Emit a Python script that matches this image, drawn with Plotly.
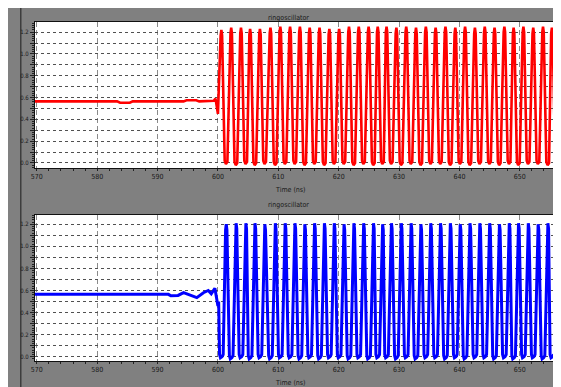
import plotly.graph_objects as go

# ---------------- data ----------------
x_ticks = [570, 580, 590, 600, 610, 620, 630, 640, 650]
y_ticks = [0.0, 0.1, 0.2, 0.3, 0.4, 0.5, 0.6, 0.7, 0.8, 0.9, 1.0, 1.1, 1.2]
y_ticklabels = ["0.0", "", "0.2", "", "0.4", "", "0.6", "", "0.8", "", "1.0", "", "1.2"]

# red trace: settled level before start-up
red_pre_t = [569.7, 583.3, 583.8, 585.4, 585.9, 594.3, 594.8, 596.4, 596.9, 599.3, 599.6, 600.0]
red_pre_v = [0.565, 0.565, 0.552, 0.552, 0.565, 0.565, 0.575, 0.575, 0.565, 0.57, 0.59, 0.45]
# red oscillation: peak times / peak levels / trough levels
red_peak_t = [600.57, 602.20, 603.82, 605.33, 606.96, 608.70, 610.33, 611.95, 613.58,
              615.20, 616.83, 618.46, 620.08, 621.71, 623.33, 624.96, 626.47, 627.93,
              629.56, 631.19, 632.81, 634.44, 636.06, 637.69, 639.32, 640.94, 642.57,
              644.20, 645.82, 647.45, 648.98, 650.60, 652.23, 653.85, 655.32]
red_peak_v = [1.22, 1.24, 1.24, 1.23, 1.23, 1.24, 1.25, 1.25, 1.25, 1.24, 1.24, 1.23,
              1.23, 1.25, 1.25, 1.25, 1.25, 1.25, 1.24, 1.25, 1.24, 1.25, 1.24, 1.25,
              1.24, 1.25, 1.24, 1.25, 1.24, 1.25, 1.24, 1.25, 1.24, 1.25, 1.24]
red_low_v = [-0.01, -0.02, -0.01, -0.02, -0.01, -0.02, -0.01, -0.01, -0.02, -0.01,
             -0.02, -0.01, -0.01, -0.02, -0.01, -0.02, -0.01, -0.01, -0.02, -0.01,
             -0.02, -0.01, -0.01, -0.02, -0.01, -0.02, -0.01, -0.01, -0.02, -0.01,
             -0.02, -0.01, -0.01, -0.02, -0.01]

# blue trace: settled level with wiggles before start-up
blue_pre_t = [569.7, 591.8, 592.2, 593.4, 594.3, 595.4, 596.5, 597.6, 598.4, 598.9, 599.5, 600.0, 600.12]
blue_pre_v = [0.565, 0.565, 0.552, 0.555, 0.58, 0.56, 0.535, 0.58, 0.60, 0.57, 0.62, 0.46, 0.50]
# blue oscillation: trough times / trough levels / peak levels
blue_trough_t = red_peak_t
blue_low_v = [-0.01, -0.02, -0.01, -0.02, -0.01, -0.02, -0.01, -0.01, -0.02, -0.01,
              -0.02, -0.01, -0.01, -0.02, -0.01, -0.02, -0.01, -0.01, -0.02, -0.01,
              -0.02, -0.01, -0.01, -0.02, -0.01, -0.02, -0.01, -0.01, -0.02, -0.01,
              -0.02, -0.01, -0.01, -0.02, -0.01]
blue_peak_v = [1.20, 1.21, 1.21, 1.21, 1.20, 1.21, 1.21, 1.21, 1.20, 1.21, 1.21, 1.21,
               1.20, 1.21, 1.21, 1.21, 1.20, 1.21, 1.21, 1.21, 1.20, 1.21, 1.21, 1.21,
               1.20, 1.21, 1.21, 1.21, 1.20, 1.21, 1.21, 1.21, 1.20, 1.21, 1.21]

x_end = 656.0

# ---------------- build the waveforms ----------------
rx, ry = list(red_pre_t), list(red_pre_v)
for p, v, lo in zip(red_peak_t, red_peak_v, red_low_v):
    for dt, yv in [(-0.12, v - 0.05), (0.0, v), (0.12, v - 0.05),
                   (0.55, lo + 0.03), (0.75, lo), (1.0, lo + 0.02)]:
        if p + dt <= x_end:
            rx.append(p + dt)
            ry.append(yv)

bx, by = list(blue_pre_t), list(blue_pre_v)
for t, lo, v in zip(blue_trough_t, blue_low_v, blue_peak_v):
    for dt, yv in [(-0.3, lo + 0.03), (-0.15, lo), (0.1, lo + 0.01), (0.3, lo + 0.03),
                   (0.7, v - 0.05), (0.81, v), (0.92, v - 0.05)]:
        if t + dt <= x_end:
            bx.append(t + dt)
            by.append(yv)

# ---------------- figure ----------------
FONT = "Liberation Sans Narrow, DejaVu Sans Condensed, Arial Narrow, sans-serif"
GREY = "#808080"

fig = go.Figure()
fig.add_trace(go.Scatter(x=rx, y=ry, mode="lines", xaxis="x", yaxis="y",
                         line=dict(color="#ff0000", width=2.6), showlegend=False))
fig.add_trace(go.Scatter(x=bx, y=by, mode="lines", xaxis="x2", yaxis="y2",
                         line=dict(color="#0000ff", width=3.0), showlegend=False))

# page shows the figure offset by the 8px body margin
W, H = 561, 387
OFF = 8
L, R, T, B = 25 - OFF, 5 + OFF, 22 - OFF, 26 + OFF
ph = H - T - B
pw = W - L - R

def py(p):  # reference-page pixel row -> paper y
    return (H - B - (p - OFF)) / ph

def px(p):  # reference-page pixel column -> paper x
    return (p - OFF - L) / pw

xaxis_common = dict(
    range=[569.7, 656.0], tickvals=x_ticks, ticks="outside", ticklen=2,
    tickcolor="#222", tickfont=dict(family=FONT, size=7, color="#1a1a1a"),
    showgrid=True, gridcolor="#8a8a8a", griddash="5px,3px", gridwidth=1,
    showline=True, linecolor="#111", linewidth=1, mirror=True, zeroline=False,
    minor=dict(dtick=2, ticks="outside", ticklen=2, tickcolor="#222"),
)
yaxis_common = dict(
    tickvals=y_ticks, ticktext=y_ticklabels, ticks="outside", ticklen=4,
    tickcolor="#222", tickfont=dict(family=FONT, size=6, color="#1a1a1a"),
    showgrid=True, gridcolor="#505050", griddash="dot", gridwidth=1,
    showline=True, linecolor="#111", linewidth=1, mirror=True, zeroline=False,
    minor=dict(dtick=0.02, ticks="outside", ticklen=2, tickcolor="#222"),
)

fig.update_layout(
    width=W, height=H, margin=dict(l=L, r=R, t=T, b=B),
    paper_bgcolor=GREY, plot_bgcolor="white",
    xaxis=dict(domain=[0, 1], anchor="y", **xaxis_common),
    yaxis=dict(domain=[py(168), 1.0], anchor="x", range=[-0.046, 1.293], **yaxis_common),
    xaxis2=dict(domain=[0, 1], anchor="y2", **xaxis_common),
    yaxis2=dict(domain=[0.0, py(215)], anchor="x2", range=[-0.039, 1.284], **yaxis_common),
    shapes=[
        dict(type="line", xref="paper", yref="paper", x0=px(10.5), x1=px(10.5), y0=py(395), y1=py(8),
             line=dict(color="#3c3c3c", width=1.5), layer="below"),
        dict(type="rect", xref="paper", yref="paper", x0=px(556.5), x1=px(561), y0=py(36), y1=py(33),
             fillcolor="#ff0000", line=dict(width=0)),
        dict(type="rect", xref="paper", yref="paper", x0=px(556.5), x1=px(561), y0=py(229), y1=py(226),
             fillcolor="#0000ff", line=dict(width=0)),
    ],
    annotations=[
        dict(text="ringoscillator", xref="paper", yref="paper", x=px(283), y=py(12),
             showarrow=False, font=dict(family=FONT, size=7, color="#1a1a1a")),
        dict(text="Time (ns)", xref="paper", yref="paper", x=px(285), y=py(190),
             showarrow=False, font=dict(family=FONT, size=7, color="#1a1a1a")),
        dict(text="ringoscillator", xref="paper", yref="paper", x=px(283), y=py(204.5),
             showarrow=False, font=dict(family=FONT, size=7, color="#1a1a1a")),
        dict(text="Time (ns)", xref="paper", yref="paper", x=px(285), y=py(383), yanchor="middle",
             showarrow=False, font=dict(family=FONT, size=7, color="#1a1a1a")),
    ],
)

fig.write_html("out.html")
